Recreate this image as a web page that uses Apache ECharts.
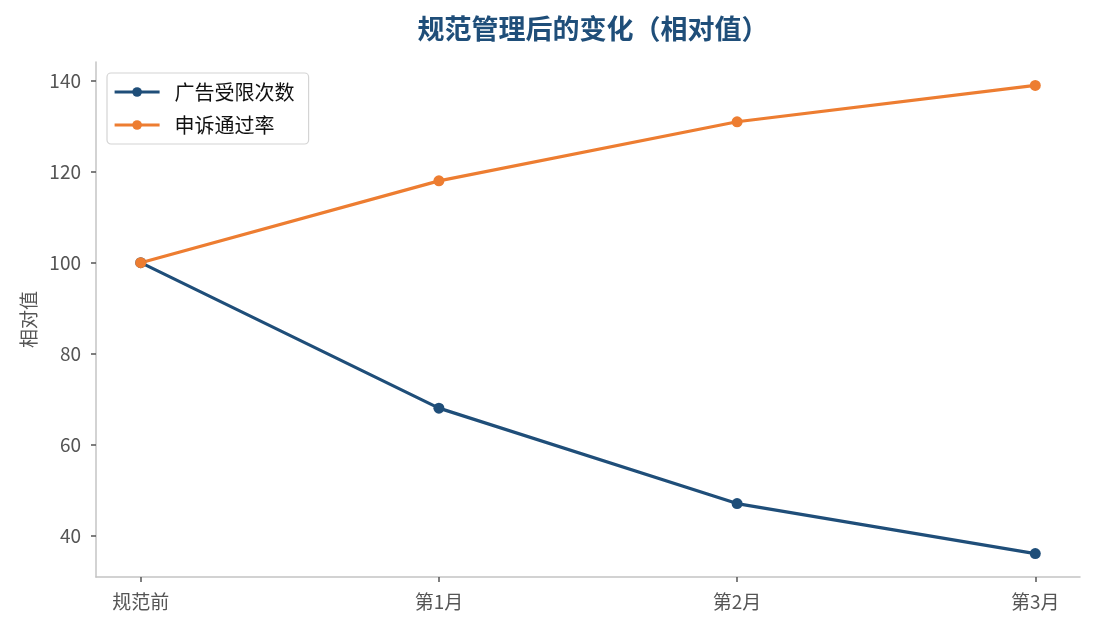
<!DOCTYPE html>
<html style="height: 100%">
<head>
    <meta charset="utf-8">
</head>
<body style="height: 100%; margin: 0; background: #fff">
<div id="container" style="width: 1095px; height: 630px"></div>
<script type="text/javascript" src="https://cdn.jsdelivr.net/npm/echarts@6/dist/echarts.min.js"></script>
<script type="text/javascript">
  // 数据
  const categories = ['规范前', '第1月', '第2月', '第3月'];
  const adLimited = [100, 68, 47, 36];     // 广告受限次数
  const appealPass = [100, 118, 131, 139]; // 申诉通过率
  const yTicks = [40, 60, 80, 100, 120, 140];

  const font = '"Noto Sans CJK SC", "Noto Sans", sans-serif';
  const toPairs = (arr) => arr.map((v, i) => [i, v]);

  var dom = document.getElementById('container');
  var myChart = echarts.init(dom, null, { renderer: 'canvas' });
  var option = {
    backgroundColor: '#fff',
    animation: false,
    textStyle: { fontFamily: font },
    title: {
      text: '规范管理后的变化（相对值）',
      left: 588,
      textAlign: 'center',
      top: 10,
      textStyle: { color: '#1f4e79', fontSize: 27, fontWeight: 'bold', fontFamily: font }
    },
    legend: {
      orient: 'vertical',
      left: 107,
      top: 73,
      padding: [9, 14, 9, 6],
      itemGap: 13,
      itemWidth: 45,
      itemHeight: 12,
      lineStyle: { width: 3.2 },
      borderColor: '#d4d4d4',
      borderWidth: 1.2,
      borderRadius: 4,
      backgroundColor: '#fff',
      textStyle: { color: '#111', fontSize: 20, fontFamily: font, padding: [0, 0, 0, 10] },
      data: ['广告受限次数', '申诉通过率']
    },
    grid: { left: 96, right: 15, top: 62, bottom: 53, containLabel: false },
    xAxis: {
      type: 'value',
      min: -0.15,
      max: 3.15,
      splitLine: { show: false },
      axisLine: { onZero: false, lineStyle: { color: '#c4c4c4', width: 1.5 } },
      axisTick: { show: true, length: 5, lineStyle: { color: '#555', width: 1.5 }, customValues: [0, 1, 2, 3] },
      axisLabel: {
        customValues: [0, 1, 2, 3],
        formatter: (v) => categories[Math.round(v)],
        color: '#555', fontSize: 19, margin: 15, fontFamily: font
      }
    },
    yAxis: {
      type: 'value',
      min: 30.85,
      max: 144.15,
      name: '相对值',
      nameLocation: 'middle',
      nameGap: 58,
      nameRotate: 90,
      nameTextStyle: { color: '#555', fontSize: 19, fontFamily: font },
      splitLine: { show: false },
      axisLine: { show: true, onZero: false, lineStyle: { color: '#c4c4c4', width: 1.5 } },
      axisTick: { show: true, length: 5, lineStyle: { color: '#555', width: 1.5 }, customValues: yTicks },
      axisLabel: { customValues: yTicks, color: '#555', fontSize: 19, margin: 15, fontFamily: font }
    },
    series: [
      {
        name: '广告受限次数',
        type: 'line',
        data: toPairs(adLimited),
        color: '#1f4e79',
        symbol: 'circle',
        symbolSize: 11,
        lineStyle: { width: 3.2 }
      },
      {
        name: '申诉通过率',
        type: 'line',
        data: toPairs(appealPass),
        color: '#ed7d31',
        symbol: 'circle',
        symbolSize: 11,
        lineStyle: { width: 3.2 }
      }
    ]
  };
  myChart.setOption(option);
</script>
</body>
</html>
